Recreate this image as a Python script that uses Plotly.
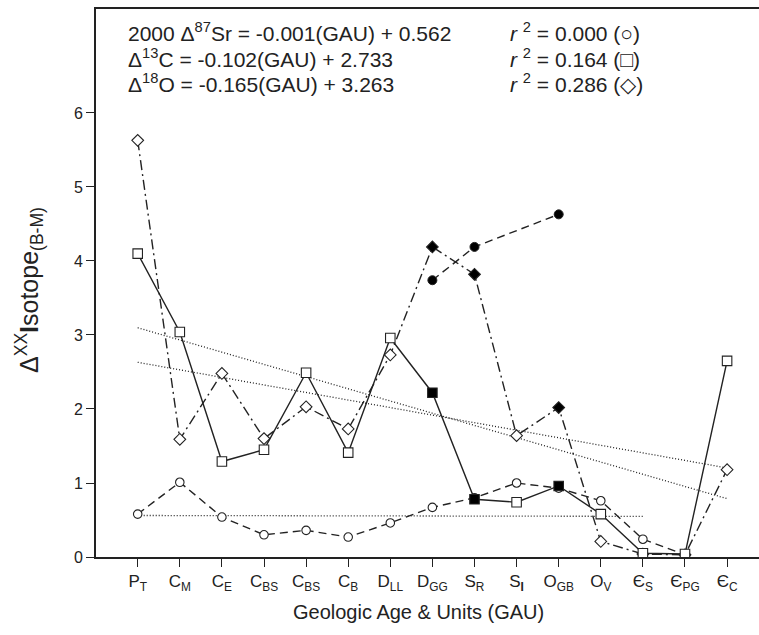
import plotly.graph_objects as go

# ---------------- data ----------------
categories = ["P<sub>T</sub>", "C<sub>M</sub>", "C<sub>E</sub>", "C<sub>BS</sub>", "C<sub>BS</sub>",
              "C<sub>B</sub>", "D<sub>LL</sub>", "D<sub>GG</sub>", "S<sub>R</sub>", "S<sub><b>I</b></sub>",
              "O<sub>GB</sub>", "O<sub>V</sub>", "Є<sub>S</sub>", "Є<sub>PG</sub>", "Є<sub>C</sub>"]
gau = list(range(1, 16))

sr_open = [0.58, 1.01, 0.54, 0.30, 0.36, 0.27, 0.46, 0.67, 0.80, 1.00, 0.93, 0.76, 0.24, 0.03, None]
sr_filled = [None, None, None, None, None, None, None, 3.74, 4.19, None, 4.63, None, None, None, None]
c13 = [4.10, 3.04, 1.29, 1.45, 2.49, 1.41, 2.96, 2.22, 0.78, 0.74, 0.96, 0.58, 0.05, 0.04, 2.65]
o18 = [5.63, 1.59, 2.48, 1.60, 2.03, 1.73, 2.73, 4.19, 3.82, 1.64, 2.02, 0.21, 0.04, 0.03, 1.18]
filled_flags = [0, 0, 0, 0, 0, 0, 0, 1, 1, 0, 1, 0, 0, 0, 0]

# regression coefficients (slope, intercept) and GAU span
sr_fit = (-0.001, 0.562, 1, 13)
c13_fit = (-0.102, 2.733, 1, 15)
o18_fit = (-0.165, 3.263, 1, 15)

INK = "#222222"
FONT = "Liberation Sans, Arial, sans-serif"

fig = go.Figure()

# trend lines (dotted)
for slope, icpt, g0, g1 in (sr_fit, c13_fit, o18_fit):
    xs = [g0, g1]
    fig.add_trace(go.Scatter(x=xs, y=[icpt + slope * g for g in xs], mode="lines",
                             line=dict(color=INK, width=1.3, dash="1px,2px"),
                             hoverinfo="skip", showlegend=False))

fill_cols = ["black" if f else "white" for f in filled_flags]

# Sr (open circles, dashed)
fig.add_trace(go.Scatter(x=gau, y=sr_open, mode="lines+markers", connectgaps=False,
                         line=dict(color=INK, width=1.4, dash="8px,5px"),
                         marker=dict(symbol="circle", size=8.5, color="white",
                                     line=dict(color=INK, width=1.1)),
                         showlegend=False))
# filled circles, dashed
fig.add_trace(go.Scatter(x=gau, y=sr_filled, mode="lines+markers", connectgaps=True,
                         line=dict(color=INK, width=1.4, dash="8px,5px"),
                         marker=dict(symbol="circle", size=9, color="black",
                                     line=dict(color=INK, width=1)),
                         showlegend=False))
# O18 diamonds, dash-dot
fig.add_trace(go.Scatter(x=gau, y=o18, mode="lines+markers",
                         line=dict(color=INK, width=1.4, dash="10px,4px,2px,4px"),
                         marker=dict(symbol="diamond", size=9, color=fill_cols,
                                     line=dict(color=INK, width=1.1)),
                         showlegend=False))
# C13 squares, solid
fig.add_trace(go.Scatter(x=gau, y=c13, mode="lines+markers",
                         line=dict(color=INK, width=1.4),
                         marker=dict(symbol="square", size=9.5, color=fill_cols,
                                     line=dict(color=INK, width=1.1)),
                         showlegend=False))

# equations
eq_left = ["2000&nbsp;Δ<sup>87</sup>Sr = -0.001(GAU) + 0.562",
           "Δ<sup>13</sup>C = -0.102(GAU) + 2.733",
           "Δ<sup>18</sup>O = -0.165(GAU) + 3.263"]
eq_right = ["<i>r</i> <sup>2</sup> = 0.000 (○)",
            "<i>r</i> <sup>2</sup> = 0.164 (□)",
            "<i>r</i> <sup>2</sup> = 0.286 (◇)"]
for i, (a, b) in enumerate(zip(eq_left, eq_right)):
    ypx = 32 + i * 25.5
    yp = 1 - (ypx - 9) / (557 - 9)
    fig.add_annotation(x=(126 - 96) / 663, y=yp, xref="paper", yref="paper", text=a,
                       showarrow=False, xanchor="left", yanchor="middle",
                       font=dict(family=FONT, size=21, color=INK))
    fig.add_annotation(x=(508 - 96) / 663, y=yp, xref="paper", yref="paper", text=b,
                       showarrow=False, xanchor="left", yanchor="middle",
                       font=dict(family=FONT, size=21, color=INK))

# axis titles
fig.add_annotation(x=(418 - 96) / 663, y=-(612 - 557) / 548, xref="paper", yref="paper",
                   text="Geologic Age & Units (GAU)", showarrow=False,
                   xanchor="center", yanchor="middle",
                   font=dict(family=FONT, size=20, color=INK))
fig.add_annotation(x=-(96 - 29) / 663, y=1 - (290 - 9) / 548, xref="paper", yref="paper",
                   text="Δ<sup>XX</sup><b>I</b>sotope<sub>(B-M)</sub>", showarrow=False,
                   textangle=-90, xanchor="center", yanchor="middle",
                   font=dict(family=FONT, size=25, color=INK))

fig.update_layout(
    width=759, height=635,
    margin=dict(l=96, r=0, t=9, b=78),
    paper_bgcolor="white", plot_bgcolor="white",
    font=dict(family=FONT, color=INK),
    xaxis=dict(range=[0.0095, 15.758], tickmode="array", tickvals=gau, ticktext=categories,
               ticks="outside", ticklen=8, tickcolor=INK, tickwidth=1.2,
               showline=True, linecolor=INK, linewidth=1.8, mirror=True,
               showgrid=False, zeroline=False,
               tickfont=dict(family=FONT, size=17, color=INK)),
    yaxis=dict(range=[0, 7.405], tickvals=[0, 1, 2, 3, 4, 5, 6],
               ticks="outside", ticklen=8, tickcolor=INK, tickwidth=1.2,
               showline=True, linecolor=INK, linewidth=1.8,
               showgrid=False, zeroline=False,
               tickfont=dict(family=FONT, size=16, color=INK)),
)

fig.write_html("out.html")
